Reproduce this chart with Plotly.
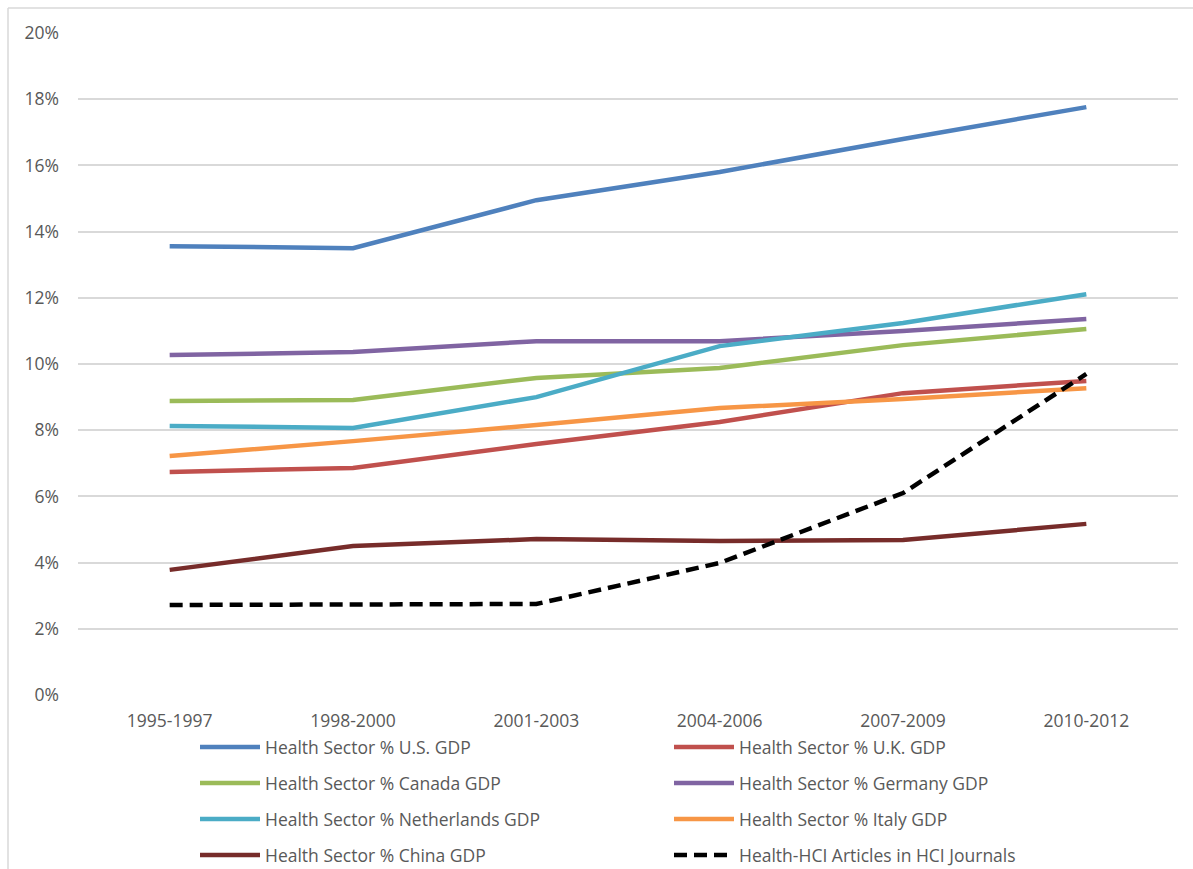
import plotly.graph_objects as go

categories = ["1995-1997", "1998-2000", "2001-2003", "2004-2006", "2007-2009", "2010-2012"]

us = [13.56, 13.50, 14.95, 15.80, 16.80, 17.76]
uk = [6.74, 6.86, 7.58, 8.25, 9.12, 9.49]
canada = [8.88, 8.91, 9.58, 9.88, 10.57, 11.06]
germany = [10.27, 10.36, 10.69, 10.69, 11.00, 11.36]
netherlands = [8.13, 8.07, 9.00, 10.54, 11.24, 12.11]
italy = [7.22, 7.67, 8.16, 8.67, 8.94, 9.27]
china = [3.78, 4.50, 4.71, 4.65, 4.68, 5.17]
hci = [2.72, 2.75, 2.75, 3.99, 6.10, 9.70]

series = [
    ("Health Sector % U.S. GDP", us, "#4F81BD", "solid"),
    ("Health Sector % U.K. GDP", uk, "#C0504D", "solid"),
    ("Health Sector % Canada GDP", canada, "#9BBB59", "solid"),
    ("Health Sector % Germany GDP", germany, "#8064A2", "solid"),
    ("Health Sector % Netherlands GDP", netherlands, "#4BACC6", "solid"),
    ("Health Sector % Italy GDP", italy, "#F79646", "solid"),
    ("Health Sector % China GDP", china, "#772C2A", "solid"),
    ("Health-HCI Articles in HCI Journals", hci, "#000000", "13px,7px"),
]

yticks = [0, 2, 4, 6, 8, 10, 12, 14, 16, 18, 20]
ytick_text = [f"{v}%" for v in yticks]

W, H = 1193, 869
L, R, T, B = 78, 15, 33, 174
pw = W - L - R
ph = H - T - B

FONT = "Open Sans, Liberation Sans, sans-serif"
TXT = "#595959"
FS = 17.5

# legend slots (2 columns x 4 rows) in pixel positions
col_x = [200, 674]
row_y = [747, 783, 819, 855]

fig = go.Figure()
layout_legends = {}
for i, (name, vals, color, dash) in enumerate(series):
    lid = "legend" if i == 0 else f"legend{i + 1}"
    fig.add_trace(go.Scatter(
        x=list(range(len(categories))), y=vals, name=name, mode="lines",
        line=dict(color=color, width=4.5, dash=dash), legend=lid,
    ))
    cx = col_x[i % 2]
    ry = row_y[i // 2]
    layout_legends[lid] = dict(
        xref="container", yref="container",
        x=(cx - 5) / W, xanchor="left",
        y=1 - ry / H, yanchor="middle",
        itemwidth=60, font=dict(family=FONT, size=FS, color=TXT),
        bgcolor="rgba(0,0,0,0)", borderwidth=0,
    )

fig.update_layout(
    width=W, height=H,
    margin=dict(l=L, r=R, t=T, b=B, autoexpand=False),
    paper_bgcolor="white", plot_bgcolor="white",
    font=dict(family=FONT, size=FS, color=TXT),
    xaxis=dict(
        range=[-0.5, 5.5], tickmode="array",
        tickvals=list(range(len(categories))), ticktext=categories,
        showgrid=False, zeroline=False, showline=False, ticks="",
        ticklabelstandoff=13,
        tickfont=dict(family=FONT, size=FS, color=TXT),
    ),
    yaxis=dict(
        range=[0, 20], tickmode="array", tickvals=yticks, ticktext=ytick_text,
        showgrid=True, gridcolor="#D9D9D9", gridwidth=1.5, zeroline=False,
        showline=False, ticks="", ticklabelstandoff=18,
        tickfont=dict(family=FONT, size=FS, color=TXT),
    ),
    showlegend=True,
    shapes=[
        dict(type="line", xref="paper", yref="paper",
             x0=(8 - L) / pw, x1=(W - L) / pw, y0=(H - 8 - B) / ph, y1=(H - 8 - B) / ph,
             line=dict(color="#D9D9D9", width=1.5)),
        dict(type="line", xref="paper", yref="paper",
             x0=(8 - L) / pw, x1=(8 - L) / pw, y0=(H - 8 - B) / ph, y1=-B / ph,
             line=dict(color="#D9D9D9", width=1.5)),
    ],
    **layout_legends,
)

fig.write_html("out.html")
